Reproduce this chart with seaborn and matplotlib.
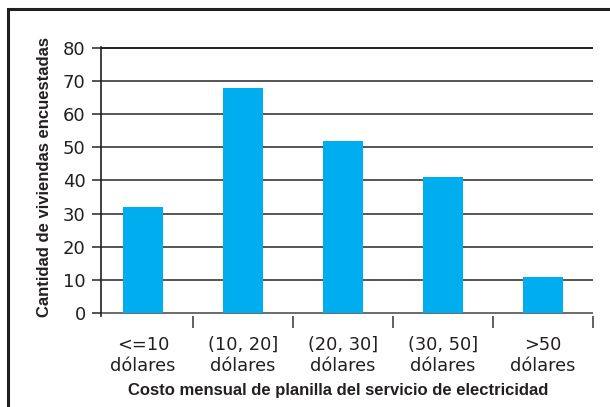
import matplotlib
matplotlib.use("Agg")
import matplotlib.pyplot as plt
from matplotlib.patches import Rectangle
from matplotlib.ticker import FixedLocator
import seaborn as sns
import pandas as pd

categories = ["<=10\ndólares", "(10, 20]\ndólares", "(20, 30]\ndólares",
              "(30, 50]\ndólares", ">50\ndólares"]
values = [32, 68, 52, 41, 11]
y_ticks = [0, 10, 20, 30, 40, 50, 60, 70, 80]
x_label = "Costo mensual de planilla del servicio de electricidad"
y_label = "Cantidad de viviendas encuestadas"

sns.set_theme(style="white")
plt.rcParams['font.family'] = ['DejaVu Sans']

df = pd.DataFrame({"cat": categories, "val": values})

fig = plt.figure(figsize=(6.10, 4.07), dpi=100)
ax = fig.add_axes([101/610, 90.7/407, 492/610, (360-90.7)/407])

sns.barplot(data=df, x="cat", y="val", color="#00AEEF", width=0.4,
            saturation=1, linewidth=0, edgecolor="none", ax=ax, zorder=3)

ax.set_xlim(-0.42, 4.5)
ax.set_ylim(-1, 80.3)
ax.set_yticks(y_ticks)
ax.yaxis.grid(True, color="#555555", linewidth=1.4, zorder=0)
ax.set_axisbelow(True)
ax.tick_params(axis="y", which="major", length=6.5, width=1.4, color="#555555",
               direction="out", pad=4.5, labelsize=13, labelcolor="#231f20", left=True)
gl = ax.get_ygridlines()
gl[-1].set_color("#231f20")
gl[0].set_color("#6a6a6a")

ax.tick_params(axis="x", which="major", length=0, pad=14, labelsize=12.8,
               labelcolor="#231f20")
ax.xaxis.set_minor_locator(FixedLocator([0.5, 1.5, 2.5, 3.5, 4.5]))
ax.tick_params(axis="x", which="minor", length=8.5, width=1.2, color="#444444",
               direction="out", bottom=True)
for lbl in ax.get_xticklabels():
    lbl.set_linespacing(1.2)

for s in ["top", "right", "bottom"]:
    ax.spines[s].set_visible(False)
ax.spines["left"].set_color("#231f20")
ax.spines["left"].set_linewidth(1.2)

ax.set_xlabel("")
ax.set_ylabel("")
fig.text(338/610, 1 - 390/407, x_label, ha="center", va="center",
         fontsize=12, fontweight="bold", family="Liberation Sans", color="#231f20")
fig.text(45/610, 1 - 177/407, y_label, ha="center", va="center", rotation=90,
         fontsize=12, fontweight="bold", family="Liberation Sans", color="#231f20")

frame = Rectangle((7.5/610, -0.1), 1.2, 1 - 9.5/407 + 0.1, transform=fig.transFigure,
                  fill=False, edgecolor="#231f20", linewidth=2.2, clip_on=False)
fig.patches.append(frame)

fig.savefig("out.png", dpi=100)
